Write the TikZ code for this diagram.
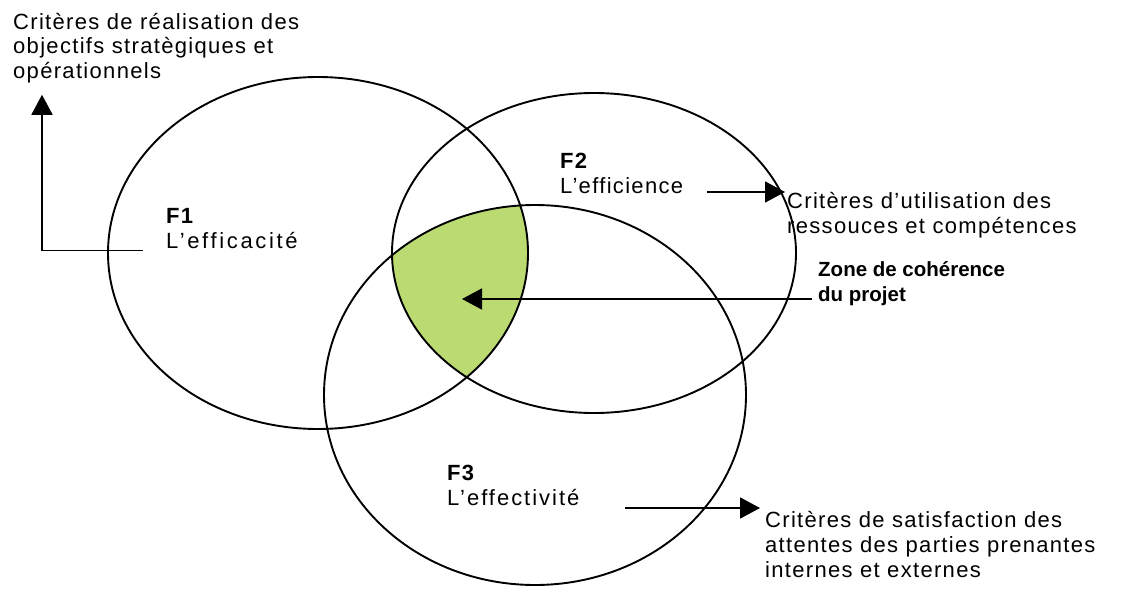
\documentclass[tikz,border=0pt]{standalone}
\usepackage{fontspec}
\setmainfont{Liberation Sans}[Ligatures=CommonOff]
\usetikzlibrary{arrows.meta}
\definecolor{zonegreen}{RGB}{188,218,114}
\begin{document}
\begin{tikzpicture}[x=1pt,y=-1pt,
  lbl/.style={anchor=base west, align=left, inner sep=0pt,
    font=\fontsize{22}{25}\selectfont\addfontfeatures{LetterSpace=6}},
  conn/.style={line width=1.8pt, -{Triangle[length=20pt,width=21pt]}},
  ring/.style={line width=1.9pt}]
\useasboundingbox[fill=white] (0,0) rectangle (1122,589);

% zone of coherence (intersection of the three ellipses)
\begin{scope}
  \clip (318,253) ellipse [x radius=210pt, y radius=176pt];
  \clip (594,253) ellipse [x radius=202pt, y radius=160pt];
  \fill[zonegreen] (535,395) ellipse [x radius=211pt, y radius=190pt];
\end{scope}

% the three ellipses
\draw[ring] (318,253) ellipse [x radius=210pt, y radius=176pt];
\draw[ring] (594,253) ellipse [x radius=202pt, y radius=160pt];
\draw[ring] (535,395) ellipse [x radius=211pt, y radius=190pt];

% labels (anchored at the baseline of their last line)
\node[lbl, font=\fontsize{22}{24.5}\selectfont\addfontfeatures{LetterSpace=6}] (crit1) at (13,78)
  {Critères de réalisation des\\objectifs stratègiques et\\opérationnels};
\node[lbl] (f1) at (166,248) {\textbf{F1}\\{\addfontfeatures{LetterSpace=12}L’efficacité}};
\node[lbl] (f2) at (560,193) {\textbf{F2}\\L’efficience};
\node[lbl] (f3) at (447,505) {\textbf{F3}\\{\addfontfeatures{LetterSpace=9}L’effectivité}};
\node[lbl] (crit2) at (787,233) {Critères d’utilisation des\\ressouces et compétences};
\node[lbl] (crit3) at (765,577) {Critères de satisfaction des\\attentes des parties prenantes\\internes et externes};
\node[lbl, font=\fontsize{20.5}{25}\selectfont\bfseries] (zone) at (818,301)
  {Zone de cohérence\\du projet};

% connectors
\coordinate (a2s) at (707,192);
\coordinate (a3s) at (625,508);
\coordinate (zc) at (462,299);

\draw[conn] ([xshift=-23pt,yshift=-2pt]f1.south west) -| ([xshift=29pt,yshift=-12pt]crit1.south west);
\draw[conn] (a2s) -- ([xshift=-2pt]crit2.west |- a2s);
\draw[conn] (a3s) -- ([xshift=-5pt]crit3.west |- a3s);
\draw[conn] ([xshift=-6pt]zone.west |- zc) -- (zc);
\end{tikzpicture}
\end{document}
